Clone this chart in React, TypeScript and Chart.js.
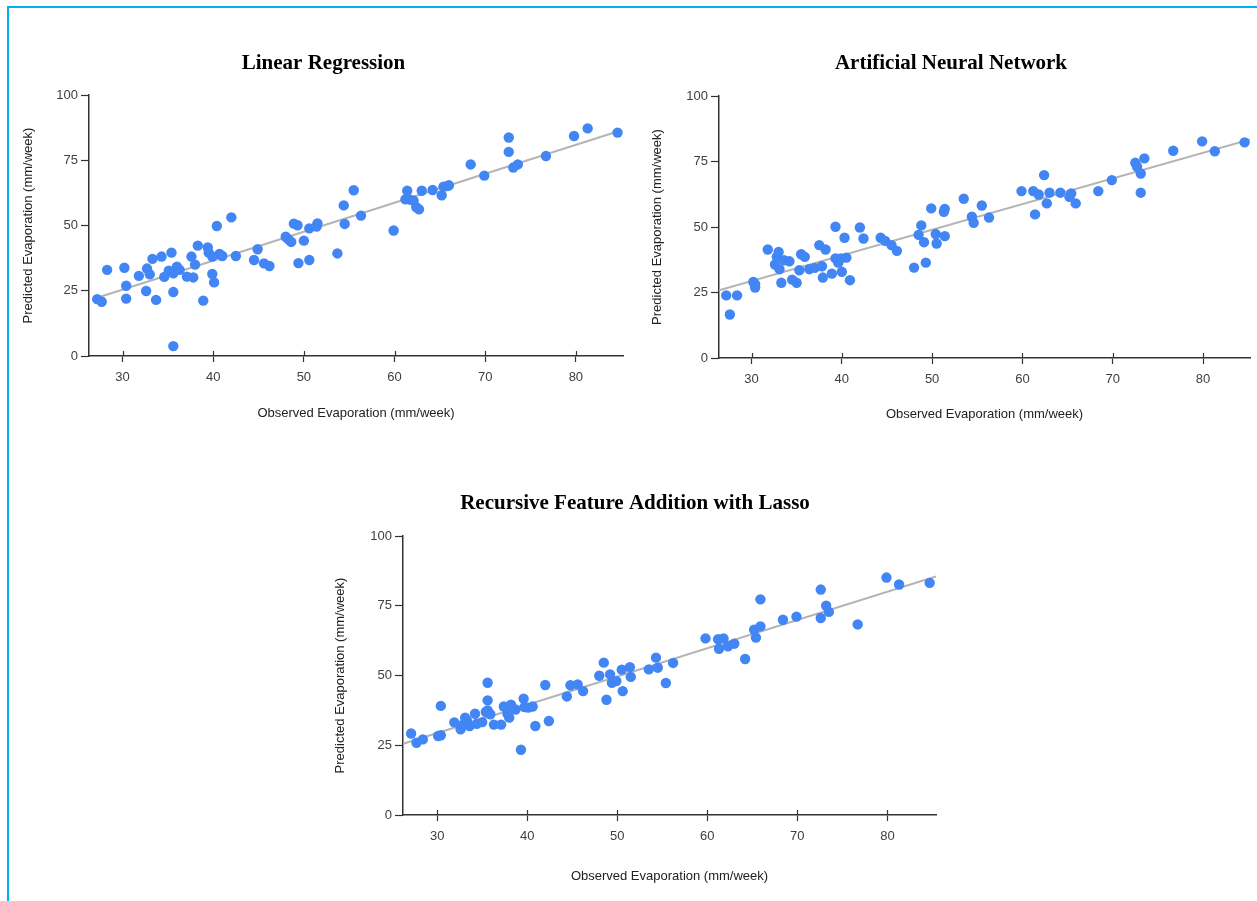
import React, { useEffect, useRef } from 'react';
import { Chart, registerables } from 'chart.js';

Chart.register(...registerables);

// ---------- data ----------
const xTickValues = [30, 40, 50, 60, 70, 80];
const yTickValues = [0, 25, 50, 75, 100];

const lrObserved = [27.2, 27.7, 28.3, 30.2, 30.4, 30.4, 31.8, 32.7, 33.0, 32.6, 33.3, 33.7, 34.3, 34.6, 35.1, 35.4, 35.6, 36.0, 36.3, 35.6, 35.6, 37.1, 37.6, 37.8, 38.0, 38.3, 38.9, 39.4, 39.5, 39.9, 39.9, 40.1, 40.4, 40.7, 41.0, 42.0, 42.5, 44.5, 44.9, 45.6, 46.2, 48.0, 48.3, 48.6, 48.9, 49.3, 49.4, 50.0, 50.6, 50.6, 51.4, 51.5, 53.7, 54.4, 54.5, 55.5, 56.3, 59.9, 61.2, 61.4, 61.8, 62.1, 62.4, 62.7, 63.0, 64.2, 65.2, 65.4, 65.8, 66.0, 68.4, 69.9, 72.6, 72.6, 73.1, 73.6, 76.7, 79.8, 81.3, 84.6];
const lrPredicted = [21.8, 20.8, 33.0, 33.8, 26.9, 22.0, 30.7, 33.5, 31.3, 24.9, 37.2, 21.5, 38.1, 30.3, 32.7, 39.6, 31.7, 34.2, 33.0, 24.5, 3.8, 30.4, 38.1, 30.1, 35.0, 42.3, 21.2, 41.6, 39.6, 38.1, 31.4, 28.2, 49.8, 39.1, 38.3, 53.1, 38.3, 36.8, 40.9, 35.5, 34.5, 45.7, 44.7, 43.7, 50.7, 50.1, 35.6, 44.2, 36.8, 48.9, 49.6, 50.8, 39.3, 57.7, 50.6, 63.5, 53.8, 48.1, 60.0, 63.3, 59.8, 59.5, 57.0, 56.2, 63.3, 63.6, 61.6, 64.9, 65.1, 65.4, 73.4, 69.1, 83.7, 78.2, 72.2, 73.4, 76.6, 84.3, 87.2, 85.6];
const lrTrendX = [27.2, 84.6];
const lrTrendY = [22.3, 86.0];

const annObserved = [27.2, 27.6, 28.4, 30.2, 30.4, 30.4, 31.8, 32.6, 32.8, 33.0, 33.1, 33.3, 33.6, 34.2, 34.5, 35.0, 35.3, 35.5, 35.9, 36.4, 37.0, 37.5, 37.8, 37.9, 38.2, 38.9, 39.3, 39.3, 39.6, 39.9, 40.0, 40.3, 40.5, 40.9, 42.0, 42.4, 44.3, 44.8, 45.5, 46.1, 48.0, 48.5, 48.8, 49.1, 49.3, 49.9, 50.4, 50.5, 51.3, 51.4, 51.4, 53.5, 54.4, 54.6, 55.5, 56.3, 59.9, 61.2, 61.4, 61.8, 62.4, 62.7, 63.0, 64.2, 65.2, 65.4, 65.9, 68.4, 69.9, 72.5, 72.7, 73.1, 73.1, 73.5, 76.7, 79.9, 81.3, 84.6];
const annPredicted = [23.9, 16.6, 23.9, 29.0, 28.2, 26.9, 41.4, 35.7, 38.6, 40.5, 33.9, 28.7, 37.3, 36.9, 29.9, 28.7, 33.5, 39.6, 38.6, 33.9, 34.4, 43.1, 35.0, 30.7, 41.4, 32.2, 50.1, 38.0, 36.4, 38.0, 32.9, 45.9, 38.3, 29.7, 49.8, 45.6, 45.9, 44.7, 43.1, 40.9, 34.5, 47.0, 50.6, 44.2, 36.4, 57.1, 47.3, 43.7, 55.8, 56.9, 46.5, 60.8, 53.9, 51.6, 58.2, 53.6, 63.7, 63.7, 54.8, 62.4, 69.8, 59.0, 63.1, 63.1, 61.5, 62.8, 59.0, 63.7, 67.9, 74.5, 73.0, 70.4, 63.1, 76.2, 79.1, 82.7, 78.9, 82.3];
const annTrendX = [26.4, 85.2];
const annTrendY = [25.8, 83.4];

const rfaObserved = [27.1, 27.7, 28.4, 30.1, 30.4, 30.4, 31.9, 32.6, 32.9, 33.1, 33.3, 33.6, 34.2, 34.4, 35.0, 35.4, 35.6, 35.6, 35.6, 35.9, 36.3, 37.1, 37.4, 37.8, 38.0, 38.2, 38.7, 39.3, 39.6, 39.7, 40.1, 40.6, 40.9, 42.0, 42.4, 44.4, 44.8, 45.6, 46.2, 48.0, 48.5, 48.8, 49.2, 49.4, 49.9, 50.5, 50.6, 51.4, 51.5, 53.5, 54.3, 54.5, 55.4, 56.2, 59.8, 61.2, 61.8, 61.3, 62.3, 63.0, 64.2, 65.2, 65.4, 65.9, 65.9, 68.4, 69.9, 72.6, 72.6, 73.2, 73.5, 76.7, 79.9, 81.3, 84.7];
const rfaPredicted = [29.2, 25.9, 27.1, 28.3, 28.6, 39.1, 33.2, 30.7, 32.5, 34.9, 33.9, 31.9, 36.3, 32.7, 33.3, 36.9, 47.4, 41.1, 37.5, 36.1, 32.4, 32.4, 38.9, 36.3, 34.9, 39.5, 37.8, 23.4, 41.7, 38.7, 38.5, 38.9, 31.9, 46.6, 33.7, 42.5, 46.5, 46.8, 44.4, 49.9, 54.6, 41.3, 50.4, 47.4, 48.0, 52.1, 44.4, 53.0, 49.5, 52.2, 56.4, 52.8, 47.3, 54.5, 63.3, 63.0, 63.3, 59.6, 60.5, 61.4, 55.9, 66.4, 63.6, 67.6, 77.3, 70.0, 71.1, 80.8, 70.6, 75.0, 72.8, 68.3, 85.1, 82.6, 83.2];
const rfaTrendX = [26.3, 85.4];
const rfaTrendY = [25.6, 85.5];

const X_TITLE = 'Observed Evaporation (mm/week)';
const Y_TITLE = 'Predicted Evaporation (mm/week)';

// ---------- styles ----------
const DOT = '#4285F4';
const TREND = '#b4b4b4';
const AXIS = '#333333';
const LABEL = '#404040';
const SANS = '"Liberation Sans", Arial, sans-serif';
const SERIF = '"Liberation Serif", "Times New Roman", serif';

const innerTicks = {
  id: 'innerTicks',
  afterDraw(chart: any) {
    const xs = chart.scales.x;
    const y0 = chart.chartArea.bottom;
    const ctx = chart.ctx;
    ctx.save();
    ctx.strokeStyle = AXIS;
    ctx.lineWidth = 1.2;
    xs.ticks.forEach((t: any) => {
      const px = Math.round(xs.getPixelForValue(t.value)) + 0.5;
      ctx.beginPath();
      ctx.moveTo(px, y0 - 5);
      ctx.lineTo(px, y0);
      ctx.stroke();
    });
    ctx.restore();
  },
};

type PanelProps = {
  title: string;
  observed: number[];
  predicted: number[];
  trendX: number[];
  trendY: number[];
  xMin: number;
  xMax: number;
  left: number;
  top: number;
  width: number;
  height: number;
  padLeft: number;
  yAxisWidth: number;
  xAxisHeight: number;
  padRight: number;
  titlePadTop: number;
  titlePadBottom: number;
  yTitlePad: number;
};

function Panel(p: PanelProps) {
  const ref = useRef<HTMLCanvasElement | null>(null);
  useEffect(() => {
    if (!ref.current) return;
    const points = p.observed.map((x, i) => ({ x, y: p.predicted[i] }));
    const trend = p.trendX.map((x, i) => ({ x, y: p.trendY[i] }));
    const chart = new Chart(ref.current, {
      type: 'scatter',
      data: {
        datasets: [
          {
            type: 'scatter',
            data: points,
            backgroundColor: DOT,
            borderWidth: 0,
            pointRadius: 5.2,
            order: 0,
          },
          {
            type: 'line',
            data: trend,
            borderColor: TREND,
            borderWidth: 2,
            pointRadius: 0,
            fill: false,
            order: 1,
          } as any,
        ],
      },
      options: {
        animation: false,
        responsive: false,
        devicePixelRatio: 1,
        layout: { padding: { left: p.padLeft, right: p.padRight, top: 0, bottom: 0 } },
        plugins: {
          legend: { display: false },
          tooltip: { enabled: false },
          title: {
            display: true,
            text: p.title,
            color: '#000',
            font: { family: SERIF, size: 21, weight: 'bold' },
            padding: { top: p.titlePadTop, bottom: p.titlePadBottom },
          },
        },
        scales: {
          x: {
            type: 'linear',
            min: p.xMin,
            max: p.xMax,
            afterBuildTicks: (s: any) => {
              s.ticks = xTickValues.map((v) => ({ value: v }));
            },
            afterFit: (s: any) => {
              s.height = p.xAxisHeight;
            },
            ticks: { color: LABEL, font: { family: SANS, size: 13 }, padding: 7.5 },
            grid: { display: true, drawOnChartArea: false, drawTicks: true, tickLength: 6, color: AXIS, tickWidth: 1.2 },
            border: { display: true, color: AXIS, width: 1.5 },
            title: { display: true, text: X_TITLE, color: '#222', font: { family: SANS, size: 13 }, padding: { top: 0, bottom: 0 } },
          },
          y: {
            type: 'linear',
            min: 0,
            max: 100,
            afterBuildTicks: (s: any) => {
              s.ticks = yTickValues.map((v) => ({ value: v }));
            },
            afterFit: (s: any) => {
              s.width = p.yAxisWidth;
            },
            ticks: { color: LABEL, font: { family: SANS, size: 13 }, padding: 3 },
            grid: { display: true, drawOnChartArea: false, drawTicks: true, tickLength: 8, color: AXIS, tickWidth: 1.2 },
            border: { display: true, color: AXIS, width: 1.5 },
            title: { display: true, text: Y_TITLE, color: '#222', font: { family: SANS, size: 13 }, padding: { top: p.yTitlePad, bottom: 0 } },
          },
        },
      } as any,
      plugins: [innerTicks],
    });
    return () => chart.destroy();
  }, []);
  return (
    <canvas
      ref={ref}
      width={p.width}
      height={p.height}
      style={{ position: 'absolute', left: p.left, top: p.top, width: p.width, height: p.height, display: 'block' }}
    />
  );
}

export default function App() {
  return (
    <div style={{ position: 'fixed', left: 0, top: 0, width: 1257, height: 901, overflow: 'hidden', background: '#fff' }}>
      <div
        style={{
          position: 'absolute',
          left: 7,
          top: 6,
          width: 1400,
          height: 1100,
          border: '2px solid #00B0F0',
          boxSizing: 'border-box',
        }}
      />
      <Panel
        title="Linear Regression"
        observed={lrObserved}
        predicted={lrPredicted}
        trendX={lrTrendX}
        trendY={lrTrendY}
        xMin={26.3}
        xMax={85.2}
        left={10}
        top={20}
        width={627}
        height={401}
        padLeft={14}
        yAxisWidth={65}
        xAxisHeight={65}
        padRight={14}
        titlePadTop={31.4}
        titlePadBottom={18.4}
        yTitlePad={-3.8}
      />
      <Panel
        title="Artificial Neural Network"
        observed={annObserved}
        predicted={annPredicted}
        trendX={annTrendX}
        trendY={annTrendY}
        xMin={26.4}
        xMax={85.2}
        left={638}
        top={20}
        width={624}
        height={402}
        padLeft={14}
        yAxisWidth={67}
        xAxisHeight={64}
        padRight={12}
        titlePadTop={31.4}
        titlePadBottom={19.4}
        yTitlePad={-2.3}
      />
      <Panel
        title="Recursive Feature Addition with Lasso"
        observed={rfaObserved}
        predicted={rfaPredicted}
        trendX={rfaTrendX}
        trendY={rfaTrendY}
        xMin={26.2}
        xMax={85.4}
        left={320}
        top={460}
        width={626}
        height={424}
        padLeft={14}
        yAxisWidth={69}
        xAxisHeight={69}
        padRight={10}
        titlePadTop={31.4}
        titlePadBottom={19.4}
        yTitlePad={-1.3}
      />
    </div>
  );
}
